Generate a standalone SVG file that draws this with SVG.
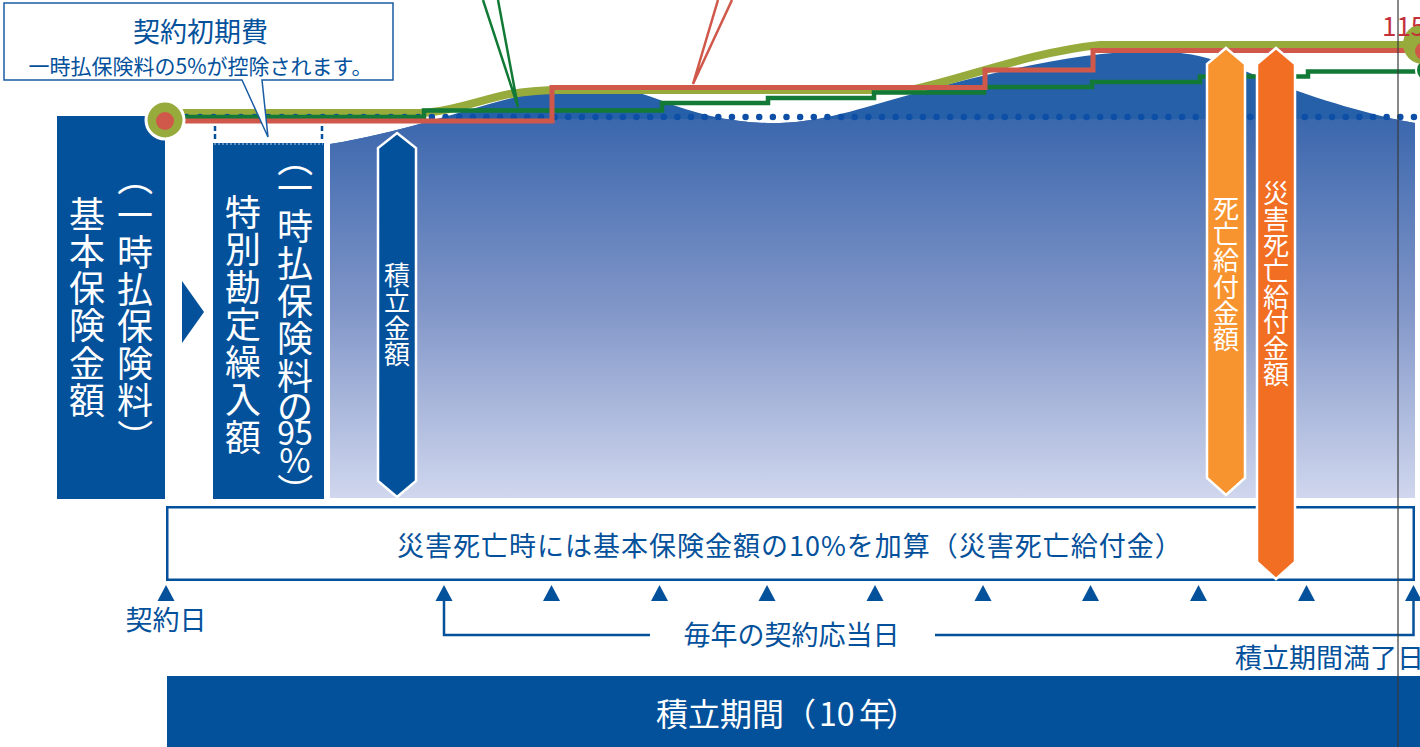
<svg xmlns="http://www.w3.org/2000/svg" width="1420" height="747" viewBox="0 0 1420 747">
<style>
text{font-family:"Noto Sans CJK JP","Noto Sans",sans-serif;}
.w{fill:#ffffff;}
.b{fill:#04519b;}
.v36{font-size:36px;text-anchor:middle;fill:#ffffff;}
.v26{font-size:26px;text-anchor:middle;fill:#ffffff;}
.lbl{font-size:27px;fill:#04519b;}
.tick{fill:#04519b;}
.bl{stroke:#04519b;stroke-width:2.5;fill:none;}
.hex{stroke:#ffffff;stroke-width:2.5;}
</style>
<defs>
<linearGradient id="g" x1="0" y1="119" x2="0" y2="498" gradientUnits="userSpaceOnUse">
<stop offset="0" stop-color="#3b67ad"/>
<stop offset="0.5" stop-color="#8196c8"/>
<stop offset="1" stop-color="#d0d7ee"/>
</linearGradient>
<clipPath id="wc"><path d="M330,144 C420,130 500,95 560,89 C600,86 630,88 660,100 C700,116 740,124 780,123 C830,121 870,105 920,92 C1000,70 1080,52 1150,51 C1200,51 1230,65 1260,77 C1310,97 1370,115 1415,123 L1415,498 L330,498 Z"/></clipPath>
</defs>

<g id="area">
<path d="M330,144 C420,130 500,95 560,89 C600,86 630,88 660,100 C700,116 740,124 780,123 C830,121 870,105 920,92 C1000,70 1080,52 1150,51 C1200,51 1230,65 1260,77 C1310,97 1370,115 1415,123 L1415,498 L330,498 Z" fill="#2660a8"/>
<rect x="330" y="119" width="1085" height="379" fill="url(#g)" clip-path="url(#wc)"/>
</g>

<g id="node-base">
<rect x="57" y="116" width="108" height="383" class="b"/>
<text class="v36">
<tspan x="87" y="227.7">基</tspan><tspan x="87" y="264.9">本</tspan><tspan x="87" y="302.1">保</tspan><tspan x="87" y="339.3">険</tspan><tspan x="87" y="376.5">金</tspan><tspan x="87" y="413.7">額</tspan>
</text>
<text class="v36" x="135" y="191.7" transform="rotate(90 135 178)">（</text>
<text class="v36">
<tspan x="135" y="228.7">一</tspan><tspan x="135" y="265.7">時</tspan><tspan x="135" y="302.7">払</tspan><tspan x="135" y="339.7">保</tspan><tspan x="135" y="376.7">険</tspan><tspan x="135" y="413.7">料</tspan>
</text>
<text class="v36" x="135" y="450.7" transform="rotate(90 135 437)">）</text>
</g>

<g id="arrow-right">
<polygon points="182,281 204,312 182,343" class="b"/>
</g>

<g id="node-special">
<line x1="215" y1="126" x2="215" y2="142" stroke="#04519b" stroke-width="2.5" stroke-dasharray="5 3"/>
<line x1="322" y1="126" x2="322" y2="142" stroke="#04519b" stroke-width="2.5" stroke-dasharray="5 3"/>
<rect x="213" y="143" width="111" height="356" class="b"/>
<line x1="214" y1="144" x2="323" y2="144" stroke="#b9c7e2" stroke-width="1" stroke-dasharray="2 2"/>
<text class="v36">
<tspan x="243" y="225.7">特</tspan><tspan x="243" y="263.2">別</tspan><tspan x="243" y="300.7">勘</tspan><tspan x="243" y="338.2">定</tspan><tspan x="243" y="375.7">繰</tspan><tspan x="243" y="413.2">入</tspan><tspan x="243" y="450.7">額</tspan>
</text>
<text class="v36" x="295" y="172.7" transform="rotate(90 295 159)">（</text>
<text class="v36">
<tspan x="295" y="202.2">一</tspan><tspan x="295" y="239.7">時</tspan><tspan x="295" y="277.2">払</tspan><tspan x="295" y="314.7">保</tspan><tspan x="295" y="352.2">険</tspan><tspan x="295" y="389.7">料</tspan><tspan x="295" y="420.7">の</tspan><tspan x="295" y="444.5" font-size="32">95</tspan><tspan x="295" y="473" font-size="34">%</tspan>
</text>
<text class="v36" x="295" y="504.7" transform="rotate(90 295 491)">）</text>
</g>

<g id="connectors">
<path d="M165,113 H420 C450,112 480,100 510,94 C530,91 545,90 560,90 H910 C960,80 1030,52 1100,45 H1430" fill="none" stroke="#97aa3c" stroke-width="8"/>
<line x1="172.7" y1="117" x2="1420" y2="117" stroke="#0d4fa6" stroke-width="6.5" stroke-linecap="round" stroke-dasharray="0 13.64"/>
<path d="M165,117 H424 V110.5 H662 V103 H768 V98 H874 V92.5 H984 V87 H1092 V82 H1200 V76.5 H1308 V71.5 H1430" fill="none" stroke="#127a36" stroke-width="4.5"/>
<path d="M165,121 H552 V87.5 H985 V70 H1093 V50.5 H1430" fill="none" stroke="#d0584a" stroke-width="5"/>
<path d="M483,0 L518,107 L498,0" fill="none" stroke="#127a36" stroke-width="2.5"/>
<path d="M718,0 L693,84 L732,0" fill="none" stroke="#d0584a" stroke-width="2.5"/>
</g>

<g id="start-point">
<circle cx="165" cy="120" r="19" fill="#97aa3c" stroke="#ffffff" stroke-width="3"/>
<circle cx="165" cy="121" r="9" fill="#d0584a"/>
</g>

<g id="end-point">
<circle cx="1428" cy="70" r="12" fill="#127a36" stroke="#ffffff" stroke-width="2"/>
<circle cx="1423" cy="44" r="20" fill="#97aa3c"/>
<circle cx="1424" cy="51" r="9" fill="#d0584a"/>
<text x="1382" y="36" font-size="26" fill="#c4303a">115</text>
</g>

<g id="condition-box">
<rect x="167.25" y="507.25" width="1246.5" height="72.5" fill="#ffffff" stroke="#04519b" stroke-width="2.5"/>
<text x="397" y="556" font-size="27" letter-spacing="1" fill="#04519b">災害死亡時には基本保険金額の10%を加算（災害死亡給付金）</text>
</g>

<g id="node-accum">
<polygon class="hex" points="397,133 416,148 416,481 397,497 378,481 378,148" fill="#04519b"/>
<text class="v26"><tspan x="397" y="284.9">積</tspan><tspan x="397" y="311.4">立</tspan><tspan x="397" y="337.9">金</tspan><tspan x="397" y="364.4">額</tspan></text>
</g>

<g id="node-death">
<polygon class="hex" points="1226,48 1245,64 1245,478 1226,495 1207,478 1207,64" fill="#f7942f"/>
<text class="v26"><tspan x="1226" y="217.9">死</tspan><tspan x="1226" y="244.1">亡</tspan><tspan x="1226" y="270.3">給</tspan><tspan x="1226" y="296.5">付</tspan><tspan x="1226" y="322.7">金</tspan><tspan x="1226" y="348.9">額</tspan></text>
</g>

<g id="node-accident">
<polygon class="hex" points="1276,48 1295,64 1295,562 1276,579 1257,562 1257,64" fill="#f26e22"/>
<text class="v26"><tspan x="1276" y="202.9">災</tspan><tspan x="1276" y="228.8">害</tspan><tspan x="1276" y="254.7">死</tspan><tspan x="1276" y="280.6">亡</tspan><tspan x="1276" y="306.5">給</tspan><tspan x="1276" y="332.4">付</tspan><tspan x="1276" y="358.3">金</tspan><tspan x="1276" y="384.2">額</tspan></text>
</g>

<g id="timeline">
<polygon class="tick" points="157.5,601 174.5,601 166,585"/>
<polygon class="tick" points="435.5,601 452.5,601 444,585"/>
<polygon class="tick" points="543,601 560,601 551.5,585"/>
<polygon class="tick" points="651,601 668,601 659.5,585"/>
<polygon class="tick" points="758.5,601 775.5,601 767,585"/>
<polygon class="tick" points="866.5,601 883.5,601 875,585"/>
<polygon class="tick" points="974.5,601 991.5,601 983,585"/>
<polygon class="tick" points="1082,601 1099,601 1090.5,585"/>
<polygon class="tick" points="1190,601 1207,601 1198.5,585"/>
<polygon class="tick" points="1298,601 1315,601 1306.5,585"/>
<polygon class="tick" points="1405,601 1422,601 1413.5,585"/>
<path class="bl" d="M444,599 V635 H650"/>
<path class="bl" d="M935,635 H1413.5 V599"/>
<text class="lbl" x="166" y="630" text-anchor="middle">契約日</text>
<text class="lbl" x="791.5" y="645" text-anchor="middle">毎年の契約応当日</text>
<text class="lbl" x="1235" y="668">積立期間満了日</text>
</g>

<g id="period-bar">
<rect x="167" y="676" width="1253" height="71" class="b"/>
<text y="726" font-size="32" fill="#ffffff"><tspan x="656">積立期間（</tspan><tspan x="819">10</tspan><tspan x="859">年</tspan><tspan x="886">）</tspan></text>
</g>

<g id="callout">
<path d="M4,3 H393 V80 H262 L268,137 L242,80 H4 Z" fill="#ffffff" stroke="#1a5ca3" stroke-width="1.5"/>
<text x="200.5" y="42" font-size="27" fill="#04519b" text-anchor="middle">契約初期費</text>
<text x="200.5" y="74" font-size="21" fill="#04519b" text-anchor="middle">一時払保険料の5%が控除されます。</text>
</g>

<line x1="1398" y1="0" x2="1398" y2="747" stroke="#3a3a3a" stroke-width="1.5" stroke-opacity="0.8"/>
</svg>
